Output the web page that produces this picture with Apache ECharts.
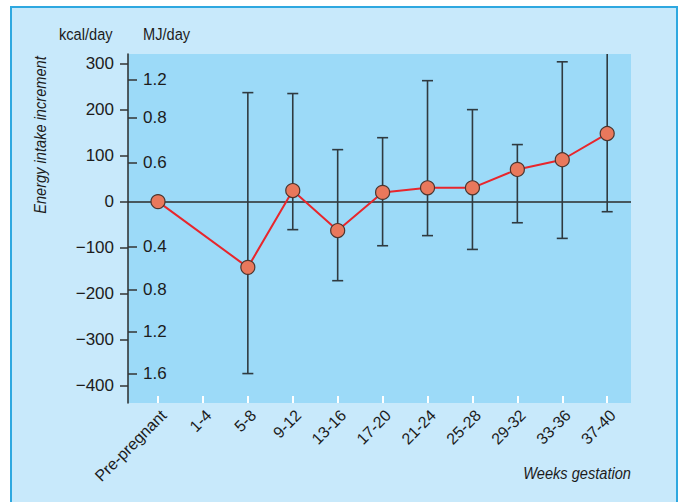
<!DOCTYPE html>
<html><head><meta charset="utf-8">
<script src="https://cdn.jsdelivr.net/npm/echarts@6/dist/echarts.min.js"></script>
<style>
html,body{margin:0;padding:0;background:#fff;overflow:hidden;width:679px;height:502px;}
#frame{position:absolute;left:10px;top:6px;width:668px;height:510px;background:#c8e9fb;border:2px solid #2ea8e0;box-sizing:border-box;}
#chart{position:absolute;left:0;top:0;width:679px;height:502px;}
</style></head><body>
<div id="frame"></div><div id="chart"></div>
<script>
// ---- data ----
const categories = ['Pre-pregnant','1-4','5-8','9-12','13-16','17-20','21-24','25-28','29-32','33-36','37-40'];
const meanKcal = [0, null, -143, 24, -63, 20, 30, 30, 70, 91, 148];
const lowKcal  = [null, null, -374, -61, -172, -96, -74, -104, -46, -80, -22];
const highKcal = [null, null, 237, 235, 113, 139, 263, 200, 124, 304, 345];
const kcalTicks = [300, 200, 100, 0, -100, -200, -300, -400];
const mjTickAt = [265, 183, 85, -98, -191, -283, -374];
const mjTickLabels = ['1.2', '0.8', '0.6', '0.4', '0.8', '1.2', '1.6'];

const Y_MIN = -438, Y_MAX = 321;
const X_MIN = -0.668, X_MAX = 10.53;
const FONT = '"Liberation Sans", Arial, sans-serif';
const TXT = '#1c1c1c';
const NARROW = 0.86;

const lineData = [];
const errData = [];
categories.forEach((c, i) => {
  if (meanKcal[i] !== null) lineData.push([i, meanKcal[i]]);
  if (lowKcal[i] !== null) errData.push([i, lowKcal[i], highKcal[i]]);
});
const fmtNum = v => (v < 0 ? '\u2212' + Math.abs(v) : String(v));

const chart = echarts.init(document.getElementById('chart'), null, {renderer: 'svg'});
chart.setOption({
  backgroundColor: 'transparent',
  animation: false,
  grid: {left: 128, top: 54, right: 48, bottom: 99, show: true, backgroundColor: '#9cdaf8', borderWidth: 0},
  xAxis: {
    type: 'value', min: X_MIN, max: X_MAX,
    splitLine: {show: false},
    axisLine: {show: false, onZero: false},
    axisTick: {show: true, inside: true, length: 7, customValues: categories.map((c, i) => i),
      lineStyle: {color: '#ffffff', width: 2}},
    axisLabel: {show: true, rotate: 45, margin: 4, verticalAlign: 'top', customValues: categories.map((c, i) => i),
      formatter: v => categories[Math.round(v)] || '',
      fontFamily: FONT, fontSize: 16, color: TXT}
  },
  yAxis: [{
    type: 'value', min: Y_MIN, max: Y_MAX, position: 'left',
    splitLine: {show: false},
    axisLine: {show: true, onZero: false, lineStyle: {color: '#2b2b2b', width: 1.5}},
    axisTick: {show: true, inside: false, length: 8, customValues: kcalTicks,
      lineStyle: {color: '#333', width: 1.5}},
    axisLabel: {show: true, margin: 14, customValues: kcalTicks, formatter: v => fmtNum(v),
      fontFamily: FONT, fontSize: 17, color: TXT}
  }, {
    type: 'value', min: Y_MIN, max: Y_MAX, position: 'left', offset: 0,
    splitLine: {show: false},
    axisLine: {show: false, onZero: false},
    axisTick: {show: true, inside: true, length: 9, customValues: mjTickAt,
      lineStyle: {color: '#333', width: 1.5}},
    axisLabel: {show: true, inside: true, margin: 15, customValues: mjTickAt,
      formatter: v => { const k = mjTickAt.indexOf(v); return k >= 0 ? mjTickLabels[k] : ''; },
      fontFamily: FONT, fontSize: 17, color: TXT}
  }],
  graphic: [
    {type: 'text', x: 59, y: 34, scaleX: NARROW, style: {text: 'kcal/day', font: '17px ' + FONT, fill: TXT, align: 'left', verticalAlign: 'middle'}},
    {type: 'text', x: 143, y: 34, scaleX: NARROW, style: {text: 'MJ/day', font: '17px ' + FONT, fill: TXT, align: 'left', verticalAlign: 'middle'}},
    {type: 'text', x: 40, y: 135, rotation: Math.PI / 2, scaleX: NARROW,
      style: {text: 'Energy intake increment', font: 'italic 17px ' + FONT, fill: TXT, align: 'center', verticalAlign: 'middle'}},
    {type: 'text', x: 631, y: 473, scaleX: NARROW,
      style: {text: 'Weeks gestation', font: 'italic 17px ' + FONT, fill: TXT, align: 'right', verticalAlign: 'middle'}}
  ],
  series: [{
    type: 'custom', xAxisIndex: 0, yAxisIndex: 0, clip: true, z: 2,
    data: errData,
    renderItem: (params, api) => {
      const x = api.value(0), lo = api.value(1), hi = api.value(2);
      const t = api.coord([x, Math.min(hi, Y_MAX)]);
      const b = api.coord([x, Math.max(lo, Y_MIN)]);
      const cap = 5.5;
      const st = {stroke: '#2f3a40', lineWidth: 1.6};
      const ch = [{type: 'line', shape: {x1: t[0], y1: t[1], x2: b[0], y2: b[1]}, style: st}];
      if (hi <= Y_MAX) ch.push({type: 'line', shape: {x1: t[0] - cap, y1: t[1], x2: t[0] + cap, y2: t[1]}, style: st});
      if (lo >= Y_MIN) ch.push({type: 'line', shape: {x1: b[0] - cap, y1: b[1], x2: b[0] + cap, y2: b[1]}, style: st});
      return {type: 'group', children: ch};
    }
  }, {
    type: 'line', xAxisIndex: 0, yAxisIndex: 0, z: 5,
    data: lineData,
    symbol: 'circle', symbolSize: 14,
    lineStyle: {color: '#e8262c', width: 2},
    itemStyle: {color: '#e9785c', borderColor: '#4b3630', borderWidth: 1.2},
    markLine: {
      silent: true, symbol: ['none', 'none'], label: {show: false},
      lineStyle: {color: '#2b2b2b', width: 1.5, type: 'solid'},
      data: [{yAxis: 0}], z: 1
    }
  }]
});
</script>
</body></html>
